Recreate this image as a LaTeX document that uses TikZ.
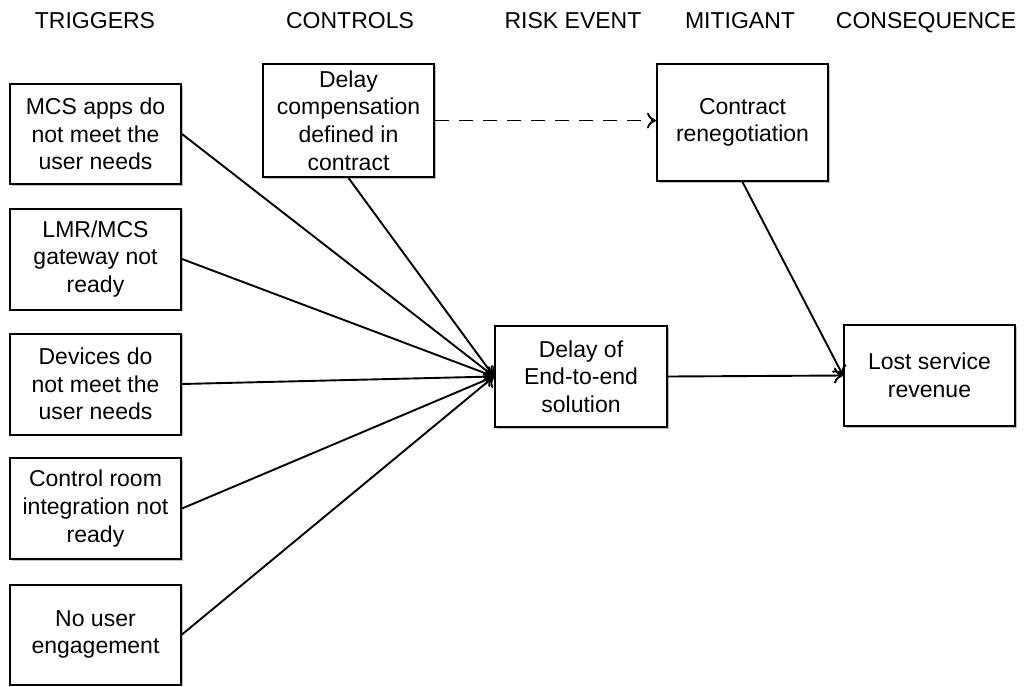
\documentclass[tikz,border=0pt]{standalone}
\usepackage{fontspec}
\setmainfont{Liberation Sans}
\usetikzlibrary{arrows.meta,shadows}
\tikzset{
  box/.style={draw,line width=2pt,fill=white,align=center,inner sep=0pt,
    minimum width=171pt,
    drop shadow={shadow xshift=1.5pt,shadow yshift=-1.5pt,fill=black,opacity=0.25}},
  link/.style={line width=1.9pt,-{To[length=9pt,width=16pt]}},
  head/.style={anchor=base}
}
\begin{document}
\begin{tikzpicture}[x=1pt,y=-1pt,font=\fontsize{23}{27.6}\selectfont]
\useasboundingbox (0,0) rectangle (1030,686);
% column headings
\node[head] (hTrig) at (95,28) {TRIGGERS};
\node[head] (hCtrl) at (350,28) {CONTROLS};
\node[head] (hRisk) at (573,28) {RISK EVENT};
\node[head] (hMit) at (740,28) {MITIGANT};
\node[head] (hCons) at (926,28) {CONSEQUENCE};
% triggers
\node[box,minimum height=100pt] (trigA) at (95.5,134) {MCS apps do\\not meet the\\user needs};
\node[box,minimum height=101pt] (trigB) at (95.5,259) {LMR/MCS\\gateway not\\ready};
\node[box,minimum height=101pt] (trigC) at (95.5,384) {Devices do\\not meet the\\user needs};
\node[box,minimum height=101pt] (trigD) at (95.5,508.5) {Control room\\integration not\\ready};
\node[box,minimum height=100pt] (trigE) at (95.5,634.5) {No user\\engagement};
% control, risk event, mitigant, consequence
\node[box,minimum height=113pt] (ctrl) at (348.5,120.5) {Delay\\compensation\\defined in\\contract};
\node[box,minimum height=101pt,minimum width=172pt] (risk) at (581,376.5) {Delay of\\End-to-end\\solution};
\node[box,minimum height=117pt] (mit) at (742.5,122.5) {Contract\\renegotiation};
\node[box,minimum height=101pt] (cons) at (929.5,375.5) {Lost service\\revenue};
% connectors
\foreach \t in {trigA,trigB,trigC,trigD,trigE}
  \draw[link] (\t.east) -- (risk.west);
\draw[link] (ctrl.south) -- (risk.west);
\draw[link,dash pattern=on 14pt off 10pt] (ctrl.east) -- (mit.west |- ctrl.east);
\draw[link] (mit.south) -- (cons.west);
\draw[link] (risk.east) -- (cons.west);
\end{tikzpicture}
\end{document}
